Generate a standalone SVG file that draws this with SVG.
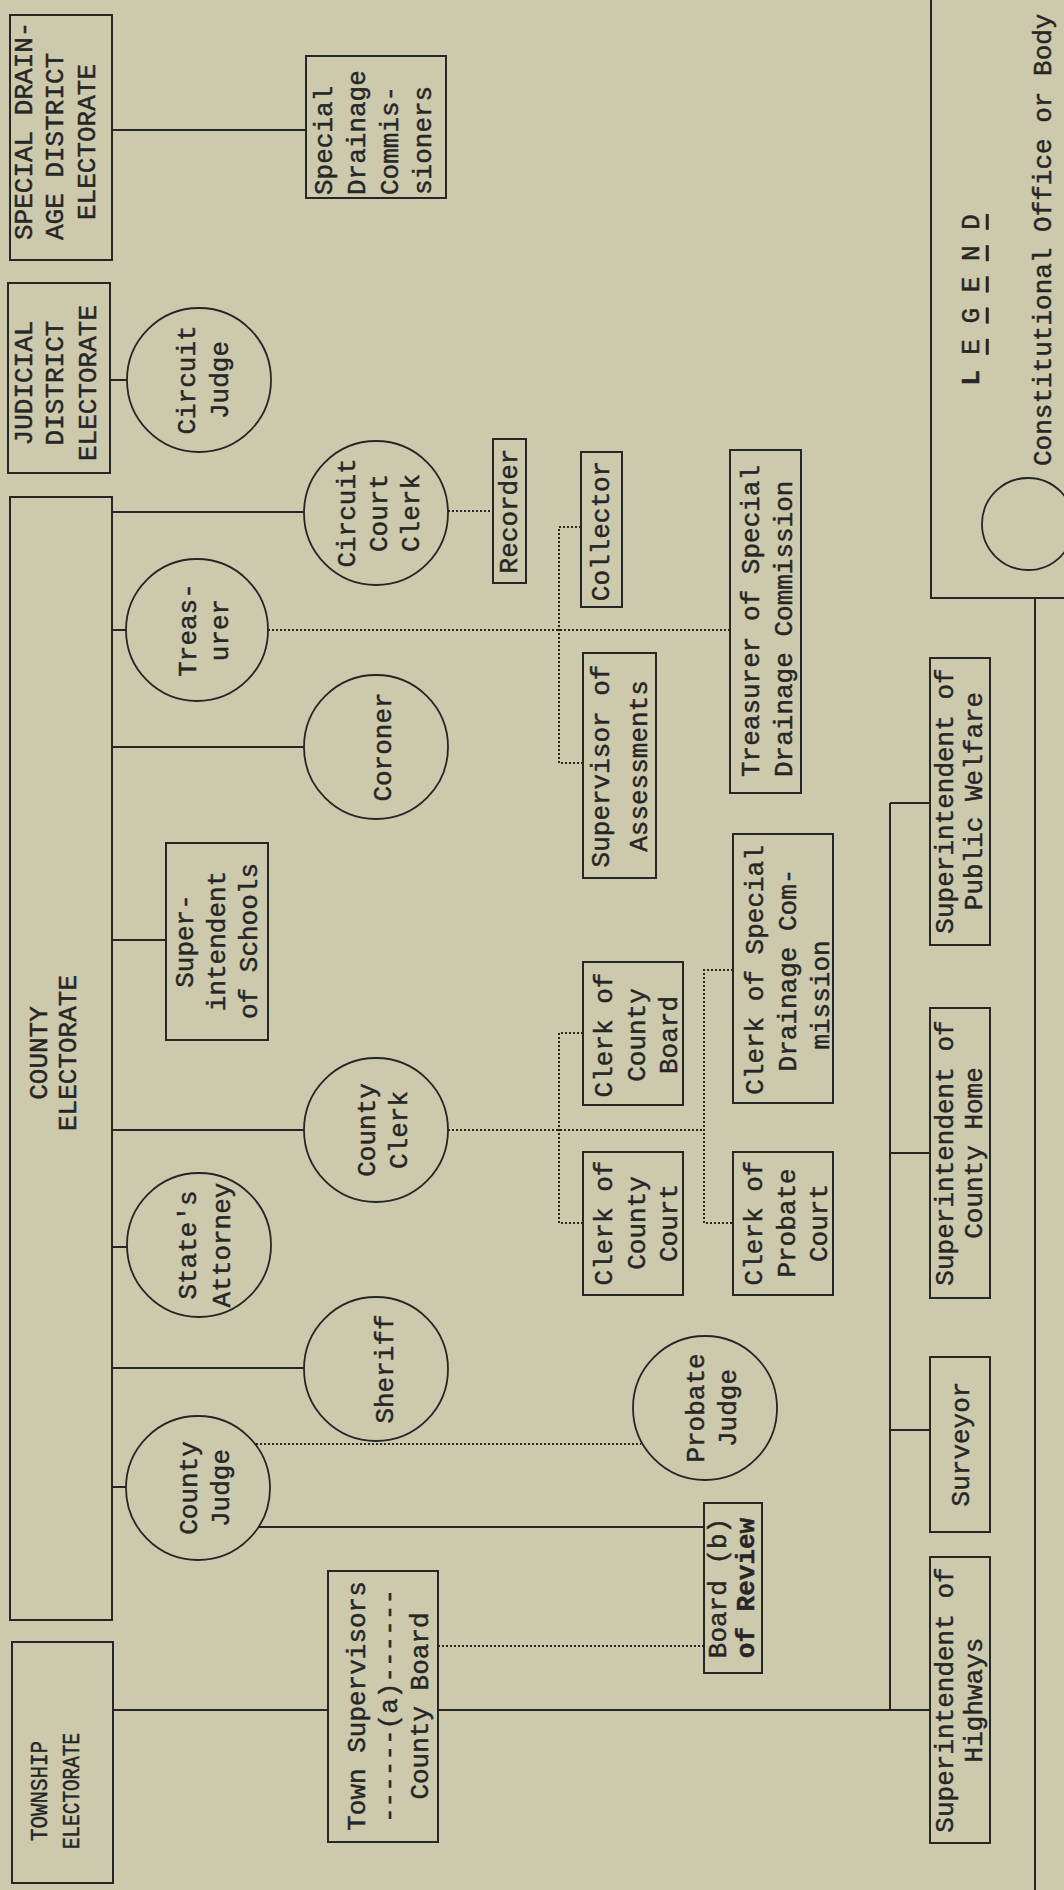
<svg xmlns="http://www.w3.org/2000/svg" width="1064" height="1890" viewBox="0 0 1064 1890">
<style>
.bg{fill:#cdc9ad}
.b{fill:none;stroke:#262626;stroke-width:2}
.c{fill:none;stroke:#262626;stroke-width:1.8}
.s{fill:none;stroke:#262626;stroke-width:2}
.d{fill:none;stroke:#262626;stroke-width:2;stroke-dasharray:2 2}
.t{font-family:"Liberation Mono","Courier New",monospace;font-size:26px;fill:#262626;stroke:#262626;stroke-width:0.45;text-anchor:middle;dominant-baseline:central}
.st{text-anchor:start}
</style>
<rect class="bg" x="0" y="0" width="1064" height="1890"/>

<g id="connectors">
<path class="s" d="M112,130 H306"/>
<path class="s" d="M110,380 H127"/>
<path class="s" d="M112,512 H304"/>
<path class="s" d="M112,630 H126"/>
<path class="s" d="M112,747 H304"/>
<path class="s" d="M112,940 H166"/>
<path class="s" d="M112,1130 H304"/>
<path class="s" d="M112,1247 H127"/>
<path class="s" d="M112,1368 H304"/>
<path class="s" d="M112,1487 H126"/>
<path class="s" d="M258,1527 H704"/>
<path class="s" d="M113,1710 H328"/>
<path class="s" d="M438,1710 H930"/>
<path class="s" d="M890,803 V1710"/>
<path class="s" d="M890,803 H930"/>
<path class="s" d="M890,1153 H930"/>
<path class="s" d="M890,1430 H930"/>
<path class="d" d="M448,511 H493"/>
<path class="d" d="M268,630 H730"/>
<path class="d" d="M581,527 H559 V763 H583"/>
<path class="d" d="M448,1130 H704"/>
<path class="d" d="M583,1033 H559 V1223 H583"/>
<path class="d" d="M733,970 H704 V1223 H733"/>
<path class="d" d="M256,1444 H641"/>
<path class="d" d="M438,1646 H704"/>
</g>

<g id="special-drainage-electorate">
<rect class="b" x="10" y="15" width="102" height="245"/>
<text class="t" transform="translate(25,240) rotate(-90)"><tspan class="st" x="0" y="0">SPECIAL DRAIN-</tspan></text>
<text class="t" transform="translate(56,240) rotate(-90)"><tspan class="st" x="0" y="0">AGE DISTRICT</tspan></text>
<text class="t" transform="translate(88,142) rotate(-90)"><tspan x="0" y="0">ELECTORATE</tspan></text>
</g>

<g id="judicial-district-electorate">
<rect class="b" x="8" y="283" width="102" height="190"/>
<text class="t" transform="translate(56,383) rotate(-90)"><tspan x="0" y="-31">JUDICIAL</tspan><tspan x="0" y="0">DISTRICT</tspan><tspan x="0" y="33">ELECTORATE</tspan></text>
</g>

<g id="county-electorate">
<rect class="b" x="10" y="497" width="102" height="1123"/>
<text class="t" transform="translate(54,1053) rotate(-90)"><tspan x="0" y="-14">COUNTY</tspan><tspan x="0" y="15">ELECTORATE</tspan></text>
</g>

<g id="township-electorate">
<rect class="b" x="12" y="1642" width="101" height="241"/>
<text class="t" style="font-size:24px" transform="translate(56,1791) rotate(-90)"><tspan x="0" y="-16" textLength="100" lengthAdjust="spacingAndGlyphs">TOWNSHIP</tspan><tspan x="0" y="16" textLength="116" lengthAdjust="spacingAndGlyphs">ELECTORATE</tspan></text>
</g>

<g id="special-drainage-commissioners">
<rect class="b" x="306" y="56" width="140" height="142"/>
<text class="t" transform="translate(374,195) rotate(-90)"><tspan class="st" x="0" y="-49">Special</tspan><tspan class="st" x="0" y="-16">Drainage</tspan><tspan class="st" x="0" y="17">Commis-</tspan><tspan class="st" x="0" y="50">sioners</tspan></text>
</g>

<g id="circuit-judge">
<circle class="c" cx="199" cy="380" r="72"/>
<text class="t" transform="translate(204,380) rotate(-90)"><tspan x="0" y="-16">Circuit</tspan><tspan x="0" y="17">Judge</tspan></text>
</g>

<g id="circuit-court-clerk">
<circle class="c" cx="376" cy="513" r="72"/>
<text class="t" transform="translate(380,513) rotate(-90)"><tspan x="0" y="-32">Circuit</tspan><tspan x="0" y="0">Court</tspan><tspan x="0" y="32">Clerk</tspan></text>
</g>

<g id="recorder">
<rect class="b" x="493" y="439" width="33" height="144"/>
<text class="t" transform="translate(510,511) rotate(-90)"><tspan x="0" y="0">Recorder</tspan></text>
</g>

<g id="collector">
<rect class="b" x="581" y="452" width="41" height="155"/>
<text class="t" transform="translate(602,531) rotate(-90)"><tspan x="0" y="0">Collector</tspan></text>
</g>

<g id="treasurer">
<circle class="c" cx="197" cy="630" r="71"/>
<text class="t" transform="translate(205,630) rotate(-90)"><tspan x="0" y="-16">Treas-</tspan><tspan x="0" y="16">urer</tspan></text>
</g>

<g id="treasurer-special-drainage">
<rect class="b" x="730" y="450" width="71" height="343"/>
<text class="t" transform="translate(768,777) rotate(-90)"><tspan class="st" x="0" y="-16">Treasurer of Special</tspan><tspan class="st" x="0" y="17">Drainage Commission</tspan></text>
</g>

<g id="supervisor-assessments">
<rect class="b" x="583" y="653" width="73" height="225"/>
<text class="t" transform="translate(621,766) rotate(-90)"><tspan x="0" y="-19">Supervisor of</tspan><tspan x="0" y="19">Assessments</tspan></text>
</g>

<g id="coroner">
<circle class="c" cx="376" cy="747" r="72"/>
<text class="t" transform="translate(384,747) rotate(-90)"><tspan x="0" y="0">Coroner</tspan></text>
</g>

<g id="superintendent-schools">
<rect class="b" x="166" y="843" width="102" height="197"/>
<text class="t" transform="translate(218,941) rotate(-90)"><tspan x="0" y="-32">Super-</tspan><tspan x="0" y="0">intendent</tspan><tspan x="0" y="32">of Schools</tspan></text>
</g>

<g id="county-clerk">
<circle class="c" cx="376" cy="1130" r="72"/>
<text class="t" transform="translate(384,1130) rotate(-90)"><tspan x="0" y="-16">County</tspan><tspan x="0" y="16">Clerk</tspan></text>
</g>

<g id="clerk-county-board">
<rect class="b" x="583" y="962" width="100" height="143"/>
<text class="t" transform="translate(638,1035) rotate(-90)"><tspan x="0" y="-33">Clerk of</tspan><tspan x="0" y="0">County</tspan><tspan x="0" y="32">Board</tspan></text>
</g>

<g id="clerk-special-drainage">
<rect class="b" x="733" y="834" width="100" height="269"/>
<text class="t" transform="translate(789,970) rotate(-90)"><tspan x="0" y="-33">Clerk of Special</tspan><tspan x="0" y="0">Drainage Com-</tspan><tspan x="0" y="33" dx="-25">mission</tspan></text>
</g>

<g id="clerk-county-court">
<rect class="b" x="583" y="1152" width="100" height="143"/>
<text class="t" transform="translate(638,1223) rotate(-90)"><tspan x="0" y="-33">Clerk of</tspan><tspan x="0" y="0">County</tspan><tspan x="0" y="32">Court</tspan></text>
</g>

<g id="clerk-probate-court">
<rect class="b" x="733" y="1152" width="100" height="143"/>
<text class="t" transform="translate(788,1223) rotate(-90)"><tspan x="0" y="-33">Clerk of</tspan><tspan x="0" y="0">Probate</tspan><tspan x="0" y="32">Court</tspan></text>
</g>

<g id="states-attorney">
<circle class="c" cx="199" cy="1245" r="72"/>
<text class="t" transform="translate(206,1245) rotate(-90)"><tspan x="0" y="-17">State's</tspan><tspan x="0" y="17">Attorney</tspan></text>
</g>

<g id="sheriff">
<circle class="c" cx="376" cy="1369" r="72"/>
<text class="t" transform="translate(386,1369) rotate(-90)"><tspan x="0" y="0">Sheriff</tspan></text>
</g>

<g id="county-judge">
<circle class="c" cx="198" cy="1488" r="72"/>
<text class="t" transform="translate(206,1488) rotate(-90)"><tspan x="0" y="-16">County</tspan><tspan x="0" y="16">Judge</tspan></text>
</g>

<g id="probate-judge">
<circle class="c" cx="705" cy="1408" r="72"/>
<text class="t" transform="translate(713,1408) rotate(-90)"><tspan x="0" y="-16">Probate</tspan><tspan x="0" y="16">Judge</tspan></text>
</g>

<g id="board-of-review">
<rect class="b" x="704" y="1503" width="58" height="170"/>
<text class="t" transform="translate(733,1588) rotate(-90)"><tspan x="0" y="-14">Board (b)</tspan><tspan x="0" y="14" font-weight="bold">of Review</tspan></text>
</g>

<g id="town-supervisors">
<rect class="b" x="328" y="1571" width="110" height="271"/>
<text class="t" transform="translate(390,1706) rotate(-90)"><tspan x="0" y="-32">Town Supervisors</tspan><tspan x="0" y="0">------(a)------</tspan><tspan x="0" y="31">County Board</tspan></text>
</g>

<g id="supt-public-welfare">
<rect class="b" x="930" y="658" width="60" height="287"/>
<text class="t" transform="translate(960,801) rotate(-90)"><tspan x="0" y="-14">Superintendent of</tspan><tspan x="0" y="15">Public Welfare</tspan></text>
</g>

<g id="supt-county-home">
<rect class="b" x="930" y="1008" width="60" height="290"/>
<text class="t" transform="translate(960,1153) rotate(-90)"><tspan x="0" y="-14">Superintendent of</tspan><tspan x="0" y="15">County Home</tspan></text>
</g>

<g id="surveyor">
<rect class="b" x="930" y="1357" width="60" height="175"/>
<text class="t" transform="translate(962,1444) rotate(-90)"><tspan x="0" y="0">Surveyor</tspan></text>
</g>

<g id="supt-highways">
<rect class="b" x="930" y="1557" width="60" height="286"/>
<text class="t" transform="translate(960,1700) rotate(-90)"><tspan x="0" y="-14">Superintendent of</tspan><tspan x="0" y="15">Highways</tspan></text>
</g>

<g id="legend">
<path class="s" d="M931,0 V598 H1064"/>
<path class="s" d="M1035,598 V1890"/>
<text class="t" transform="translate(972,300) rotate(-90)"><tspan font-weight="bold">L</tspan> <tspan text-decoration="underline">E</tspan> <tspan text-decoration="underline">G</tspan> <tspan text-decoration="underline">E</tspan> <tspan text-decoration="underline">N</tspan> <tspan text-decoration="underline">D</tspan></text>
<circle class="c" cx="1028" cy="524" r="46"/>
<text class="t" transform="translate(1044,466) rotate(-90)"><tspan class="st" x="0" y="0">Constitutional Office or Body</tspan></text>
</g>
</svg>
